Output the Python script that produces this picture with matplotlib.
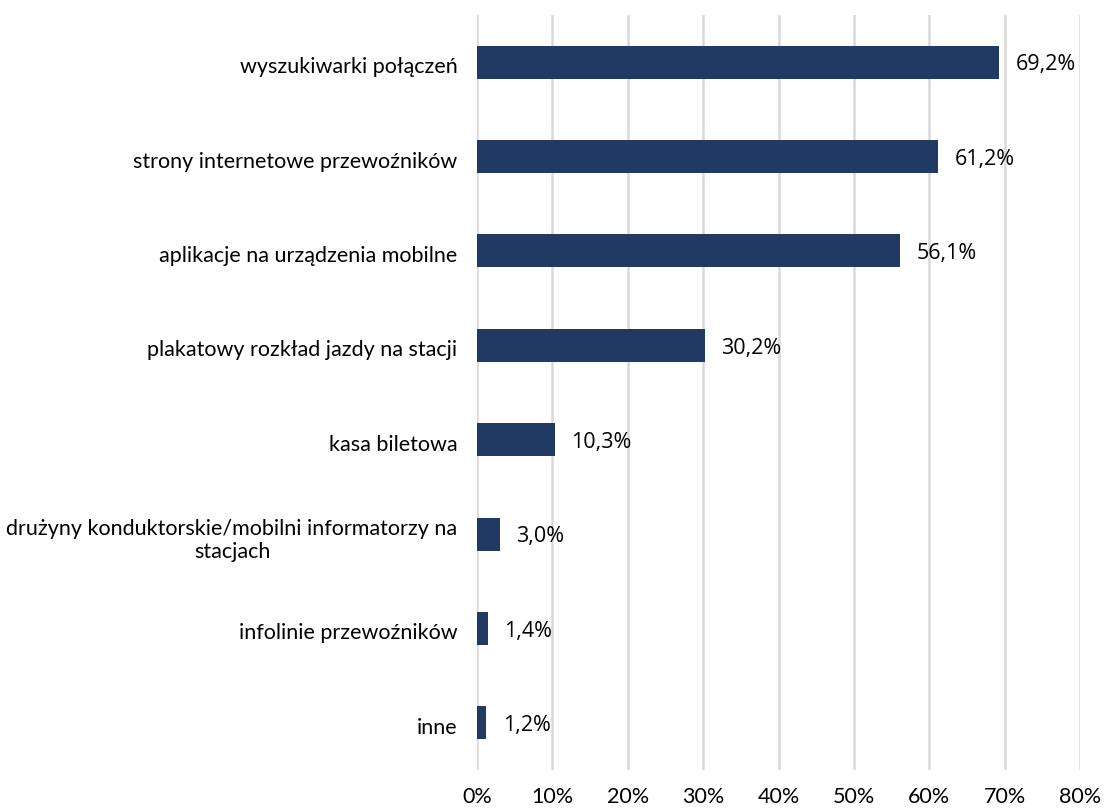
import matplotlib.pyplot as plt
from matplotlib.transforms import ScaledTranslation

categories = [
    "wyszukiwarki połączeń",
    "strony internetowe przewoźników",
    "aplikacje na urządzenia mobilne",
    "plakatowy rozkład jazdy na stacji",
    "kasa biletowa",
    "drużyny konduktorskie/mobilni informatorzy na\nstacjach",
    "infolinie przewoźników",
    "inne",
]
values = [69.2, 61.2, 56.1, 30.2, 10.3, 3.0, 1.4, 1.2]
ticks = [0, 10, 20, 30, 40, 50, 60, 70, 80]
tick_labels = ["0%", "10%", "20%", "30%", "40%", "50%", "60%", "70%", "80%"]

plt.rcParams['font.family'] = ['Lato', 'DejaVu Sans']

fig = plt.figure(figsize=(11.04, 8.08), dpi=100)
ax = fig.add_axes([0.4321, 0.047, 0.5462, 0.9344])

pos = list(range(len(categories)))
ax.barh(pos, values, height=0.35, color='#213a63', zorder=3)

# percentage labels next to the bar ends
for y, v in zip(pos, values):
    ax.annotate(f"{v:.1f}%".replace('.', ','), (v, y), xytext=(12, -2),
                textcoords='offset points', va='center', ha='left',
                fontsize=15.5, family=['Open Sans', 'DejaVu Sans'], color='#000000')

ax.set_xlim(0, 80)
ax.set_ylim(len(categories) - 0.5, -0.5)
ax.set_xticks(ticks)
ax.set_xticklabels(tick_labels, fontsize=15.5)
ax.set_yticks(pos)
ax.set_yticklabels(categories, fontsize=15.5, ha='right', multialignment='center')
ax.tick_params(axis='y', length=0, pad=14)
ax.tick_params(axis='x', length=0, pad=12)

# nudge category names a little lower
shift = ScaledTranslation(0, -3 / 100, fig.dpi_scale_trans)
for lbl in ax.get_yticklabels():
    lbl.set_transform(lbl.get_transform() + shift)

ax.grid(axis='x', color='#d9d9d9', linewidth=1.8, zorder=0)
for s in ax.spines.values():
    s.set_visible(False)

fig.savefig('out.png', dpi=100)
